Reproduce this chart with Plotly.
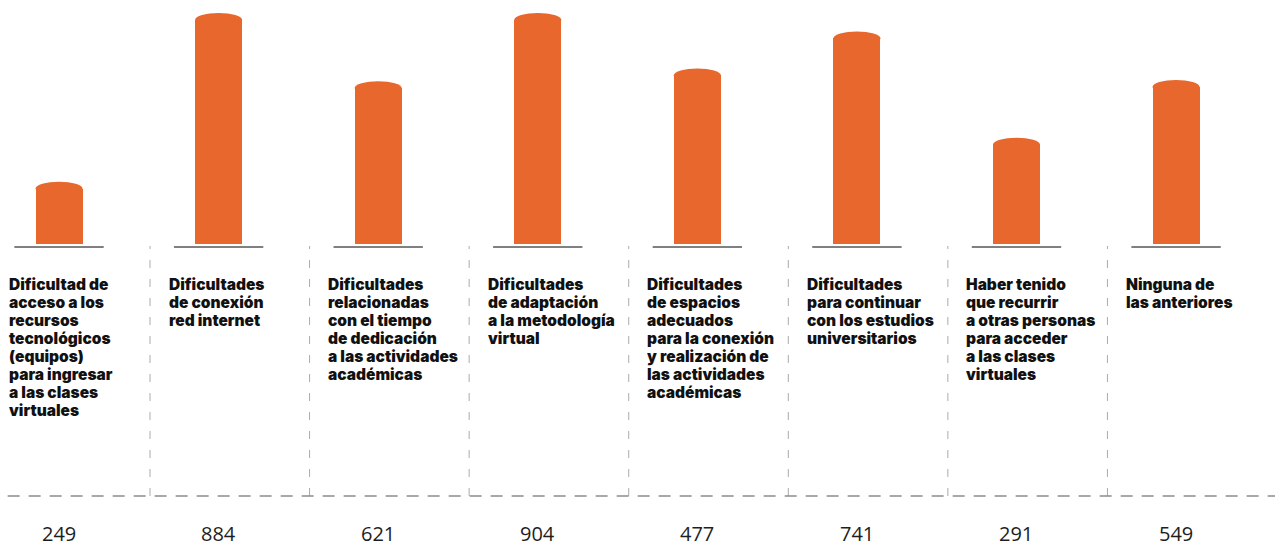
import plotly.graph_objects as go

# Categorías (cada línea del rótulo separada por "\n")
categorias = [
    "Dificultad de\nacceso a los\nrecursos\ntecnológicos\n(equipos)\npara ingresar\na las clases\nvirtuales",
    "Dificultades\nde conexión\nred internet",
    "Dificultades\nrelacionadas\ncon el tiempo\nde dedicación\na las actividades\nacadémicas",
    "Dificultades\nde adaptación\na la metodología\nvirtual",
    "Dificultades\nde espacios\nadecuados\npara la conexión\ny realización de\nlas actividades\nacadémicas",
    "Dificultades\npara continuar\ncon los estudios\nuniversitarios",
    "Haber tenido\nque recurrir\na otras personas\npara acceder\na las clases\nvirtuales",
    "Ninguna de\nlas anteriores",
]

# Altura relativa de cada barra (escala 0-100)
alturas = [27, 100, 70.5, 100, 76, 92, 46, 71]

# Totales mostrados al pie de cada columna
totales = [249, 884, 621, 904, 477, 741, 291, 549]

NARANJA = "#E8672D"
GRIS_BASE = "#808080"
GRIS_GUIA = "#8C8C8C"

W, H = 1275, 550
PX_POR_UNIDAD = 2.31      # píxeles verticales por unidad de altura
BASE_PX = 244             # posición vertical de la línea base
ANCHO_BARRA = 0.295
DOMO = 3.0                # altura del remate redondeado (unidades)
INTERLINEA = 18           # separación entre líneas de rótulo (px)

n = len(categorias)
xs = list(range(n))

fig = go.Figure()

# Cuerpo de las barras (el remate superior se dibuja como elipse)
fig.add_trace(go.Bar(
    x=xs,
    y=[v - DOMO for v in alturas],
    width=ANCHO_BARRA,
    marker=dict(color=NARANJA, line=dict(width=0)),
    hoverinfo="skip",
    showlegend=False,
))

shapes = []
for i, v in zip(xs, alturas):
    # remate abovedado
    shapes.append(dict(
        type="circle", xref="x", yref="y",
        x0=i - ANCHO_BARRA / 2, x1=i + ANCHO_BARRA / 2,
        y0=v - 2 * DOMO, y1=v,
        fillcolor=NARANJA, line=dict(width=0), layer="above",
    ))
    # línea base gris bajo la barra
    shapes.append(dict(
        type="line", xref="x", yref="y",
        x0=i - 0.28, x1=i + 0.28, y0=-1.3, y1=-1.3,
        line=dict(color=GRIS_BASE, width=2),
    ))

# separadores verticales entre columnas
y_guia = 1 - 496 / H
for i in xs[:-1]:
    shapes.append(dict(
        type="line", xref="x", yref="paper",
        x0=i + 0.57, x1=i + 0.57, y0=y_guia, y1=1 - 246 / H,
        line=dict(color="#ABABAB", width=1, dash="8px,11px"),
    ))

# línea horizontal discontinua inferior
shapes.append(dict(
    type="line", xref="paper", yref="paper",
    x0=0.006, x1=1, y0=y_guia, y1=y_guia,
    line=dict(color=GRIS_GUIA, width=1.3, dash="12px,9px"),
))

annotations = []
for i, texto, total in zip(xs, categorias, totales):
    for k, linea in enumerate(texto.split("\n")):
        annotations.append(dict(
            x=i, xref="x", y=1 - (284 + INTERLINEA * k) / H, yref="paper",
            text=linea, showarrow=False, align="left",
            xanchor="left", yanchor="middle", xshift=-52,
            font=dict(family="Inter, Arial", size=15.5, color="#111111", weight=900),
        ))
    annotations.append(dict(
        x=i, xref="x", y=0, yref="paper",
        text=str(total), showarrow=False,
        xanchor="center", yanchor="bottom", yshift=1,
        font=dict(family="Open Sans, Arial", size=20, color="#1E1E1E", weight=400),
    ))

fig.update_layout(
    width=W, height=H,
    margin=dict(l=0, r=0, t=0, b=0),
    paper_bgcolor="white", plot_bgcolor="white",
    xaxis=dict(range=[-0.37, 7.62], visible=False, fixedrange=True),
    yaxis=dict(range=[-(H - BASE_PX) / PX_POR_UNIDAD, BASE_PX / PX_POR_UNIDAD],
               visible=False, fixedrange=True),
    shapes=shapes,
    annotations=annotations,
    bargap=0,
)

fig.write_html("out.html", config={"displayModeBar": False})
